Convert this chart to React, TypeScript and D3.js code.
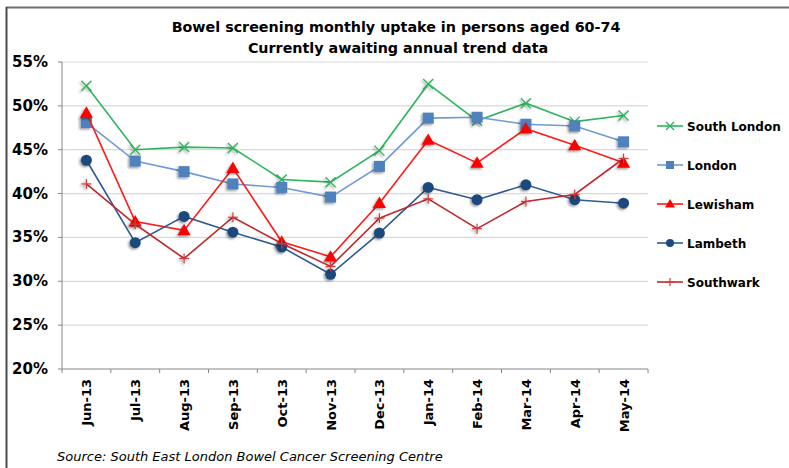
import React from "react";
import * as d3 from "d3";

const months = ["Jun-13", "Jul-13", "Aug-13", "Sep-13", "Oct-13", "Nov-13", "Dec-13", "Jan-14", "Feb-14", "Mar-14", "Apr-14", "May-14"];
const southLondon = [52.3, 45.0, 45.3, 45.2, 41.6, 41.3, 44.9, 52.5, 48.3, 50.3, 48.2, 48.9];
const london = [48.1, 43.7, 42.5, 41.1, 40.7, 39.6, 43.1, 48.6, 48.7, 47.9, 47.7, 45.9];
const lewisham = [49.2, 36.8, 35.8, 42.9, 34.5, 32.8, 38.9, 46.1, 43.5, 47.4, 45.5, 43.5];
const lambeth = [43.8, 34.4, 37.4, 35.6, 33.9, 30.8, 35.5, 40.7, 39.3, 41.0, 39.3, 38.9];
const southwark = [41.1, 36.5, 32.6, 37.3, 34.3, 31.7, 37.2, 39.4, 36.0, 39.1, 39.9, 44.0];
const yTicks = [20, 25, 30, 35, 40, 45, 50, 55];
const seriesNames = ["South London", "London", "Lewisham", "Lambeth", "Southwark"];

const W = 789, H = 468;
const L = 62, R = 648, T = 62, B = 369;

type Series = { name: string; values: number[]; line: string; marker: string; fill: string; stroke: string; lw: number };
const series: Series[] = [
  { name: seriesNames[0], values: southLondon, line: "#2DB55D", marker: "x", fill: "none", stroke: "#2DB55D", lw: 1.6 },
  { name: seriesNames[1], values: london, line: "#6F9AD3", marker: "square", fill: "#4F81BD", stroke: "#4F81BD", lw: 1.6 },
  { name: seriesNames[2], values: lewisham, line: "#FF1A1A", marker: "triangle", fill: "#FF0000", stroke: "#FF0000", lw: 1.6 },
  { name: seriesNames[3], values: lambeth, line: "#2F5A94", marker: "circle", fill: "#1F497D", stroke: "#1F497D", lw: 1.6 },
  { name: seriesNames[4], values: southwark, line: "#C0282B", marker: "plus", fill: "none", stroke: "#D23A3A", lw: 1.6 },
];

function Marker({ type, x, y, s, fill, stroke, filter }: any) {
  const h = s / 2;
  switch (type) {
    case "x":
      return (
        <g filter={filter}>
          <line x1={x - h} y1={y - h} x2={x + h} y2={y + h} stroke={stroke} strokeWidth={1.3} />
          <line x1={x - h} y1={y + h} x2={x + h} y2={y - h} stroke={stroke} strokeWidth={1.3} />
        </g>
      );
    case "plus":
      return (
        <g filter={filter}>
          <line x1={x - h} y1={y} x2={x + h} y2={y} stroke={stroke} strokeWidth={1.2} />
          <line x1={x} y1={y - h} x2={x} y2={y + h} stroke={stroke} strokeWidth={1.2} />
        </g>
      );
    case "square":
      return <rect x={x - h} y={y - h} width={s} height={s} fill={fill} filter={filter} />;
    case "circle":
      return <circle cx={x} cy={y} r={h} fill={fill} filter={filter} />;
    case "triangle":
      return <path d={`M${x},${y - h * 1.1}L${x + h * 1.1},${y + h * 0.8}L${x - h * 1.1},${y + h * 0.8}Z`} fill={fill} filter={filter} />;
  }
  return null;
}

export default function App() {
  const x = d3.scaleBand<string>().domain(months).range([L, R]).padding(0);
  const y = d3.scaleLinear().domain([20, 55]).range([B, T]);
  const cx = (m: string) => (x(m) as number) + x.bandwidth() / 2;
  const line = d3.line<number>().x((_, i) => cx(months[i])).y((v) => y(v));
  const edges = months.map((m) => x(m) as number).concat([R]);
  const font = "'DejaVu Sans', Verdana, sans-serif";
  const legendY = [126, 165, 204, 243, 282];
  const mSize: Record<string, number> = { x: 10, plus: 10, square: 11, circle: 11, triangle: 12 };

  return (
    <svg width={W} height={H} style={{ position: "absolute", left: 0, top: 0, background: "#fff" }} fontFamily={font}>
      <defs>
        <filter id="sh" x="-50%" y="-50%" width="200%" height="200%">
          <feDropShadow dx={-1.5} dy={1.5} stdDeviation={1.2} floodColor="#000" floodOpacity={0.4} />
        </filter>
      </defs>
      <rect x={0} y={0} width={W} height={H} fill="#fff" />
      {/* frame */}
      <line x1={6} y1={7.5} x2={W} y2={7.5} stroke="#6f6f6f" strokeWidth={2} />
      <line x1={6.5} y1={7} x2={6.5} y2={H} stroke="#4a4a4a" strokeWidth={2} />

      {/* title */}
      <text x={396} y={32} textAnchor="middle" fontSize={14.3} fontWeight="bold" fill="#000">Bowel screening monthly uptake in persons aged 60-74</text>
      <text x={398} y={53} textAnchor="middle" fontSize={14.3} fontWeight="bold" fill="#000">Currently awaiting annual trend data</text>

      {/* gridlines */}
      {yTicks.filter((t) => t > 20).map((t) => (
        <line key={t} x1={L} x2={R} y1={y(t)} y2={y(t)} stroke="#D9D9D9" strokeWidth={1.2} />
      ))}
      {/* axes */}
      <line x1={L} x2={L} y1={T} y2={B} stroke="#868686" strokeWidth={1} />
      <line x1={L} x2={R} y1={B} y2={B} stroke="#868686" strokeWidth={1} />
      {yTicks.map((t) => (
        <g key={t}>
          <line x1={L - 4} x2={L} y1={y(t)} y2={y(t)} stroke="#868686" />
          <text x={48} y={y(t) + 5} textAnchor="end" fontSize={15} fontWeight="bold" fill="#000">{t}%</text>
        </g>
      ))}
      {edges.map((e, i) => (
        <line key={i} x1={e} x2={e} y1={B} y2={B + 4} stroke="#868686" />
      ))}
      {months.map((m) => (
        <text key={m} transform={`translate(${cx(m) + 5},${379}) rotate(-90)`} textAnchor="end" fontSize={13} fontWeight="bold" fill="#000">{m}</text>
      ))}

      {/* series */}
      {series.map((s) => (
        <g key={s.name}>
          <path d={line(s.values) as string} fill="none" stroke={s.line} strokeWidth={s.lw} />
          {s.values.map((v, i) => (
            <Marker key={i} type={s.marker} x={cx(months[i])} y={y(v)} s={mSize[s.marker]} fill={s.fill} stroke={s.stroke} filter="url(#sh)" />
          ))}
        </g>
      ))}

      {/* legend */}
      {series.map((s, i) => (
        <g key={s.name}>
          <line x1={657} x2={683} y1={legendY[i]} y2={legendY[i]} stroke={s.line} strokeWidth={1.6} />
          <Marker type={s.marker} x={670} y={legendY[i]} s={s.marker === "triangle" ? 9 : 8} fill={s.fill} stroke={s.stroke} />
          <text x={687} y={legendY[i] + 4.5} fontSize={12} fontWeight="bold" fill="#000">{s.name}</text>
        </g>
      ))}

      {/* source */}
      <text x={57} y={461} fontSize={13} fontStyle="italic" fill="#000">Source: South East London Bowel Cancer Screening Centre</text>
    </svg>
  );
}
